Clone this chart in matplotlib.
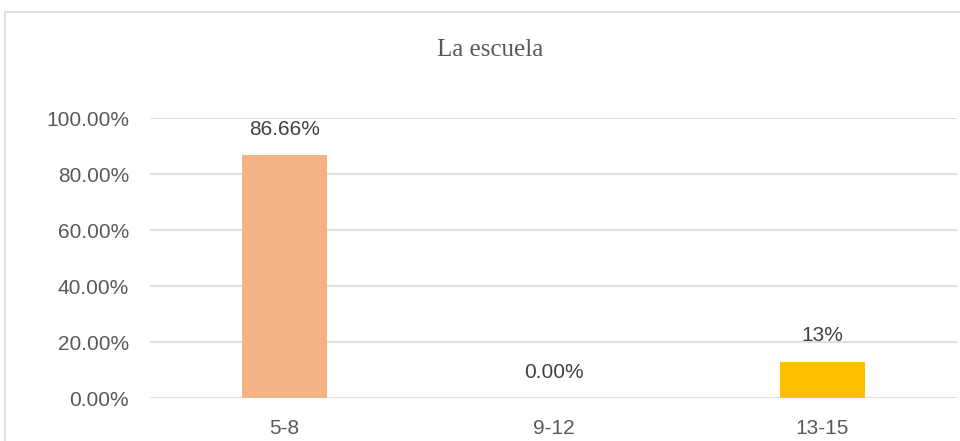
import matplotlib
matplotlib.use("Agg")
import matplotlib.pyplot as plt
from matplotlib import font_manager
from matplotlib.patches import Rectangle
from matplotlib.ticker import FuncFormatter

categories = ["5-8", "9-12", "13-15"]
values = [0.8666, 0.0, 0.13]
labels = ["86.66%", "0.00%", "13%"]
colors = ["#F4B183", "#A5A5A5", "#FFC000"]
yticks = [0.0, 0.2, 0.4, 0.6, 0.8, 1.0]

names = {f.name for f in font_manager.fontManager.ttflist}
sans = "Liberation Sans Narrow" if "Liberation Sans Narrow" in names else "Liberation Sans"
serif = "Liberation Serif"

txt = "#595959"
grid = "#D9D9D9"

fig = plt.figure(figsize=(9.6, 4.41), dpi=100)
fig.patches.append(Rectangle((5/960, -0.1), 1.0, (441-12)/441 + 0.1, transform=fig.transFigure,
                             fill=False, edgecolor=grid, linewidth=1.2))
ax = fig.add_axes([150/960, (441-398)/441, (957-150)/960, (398-118)/441])
x = list(range(len(categories)))
ax.bar(x, values, width=0.316, color=colors, zorder=3)
ax.set_xlim(-0.5, 2.5)
ax.set_ylim(0, 1.0)
ax.set_yticks(yticks)
ax.yaxis.set_major_formatter(FuncFormatter(lambda v, p: f"{v*100:.2f}%"))
ax.set_xticks(x)
ax.set_xticklabels(categories)
ax.grid(axis="y", color=grid, linewidth=1.2, zorder=0)
for s in ax.spines.values():
    s.set_visible(False)
ax.tick_params(length=0, labelsize=15, labelcolor=txt)
ax.tick_params(axis="y", pad=15)
ax.tick_params(axis="x", pad=15)
for t in ax.get_xticklabels() + ax.get_yticklabels():
    t.set_fontfamily(sans)
for xi, v, lab in zip(x, values, labels):
    ax.annotate(lab, (xi, v), xytext=(0, 18.7), textcoords="offset points", ha="center", va="center",
                fontsize=15, color="#404040", family=sans)
fig.text(490/960, 1 - 50/441, "La escuela", ha="center", va="center", fontsize=18,
         color=txt, family=serif)
fig.savefig("out.png", dpi=100)
